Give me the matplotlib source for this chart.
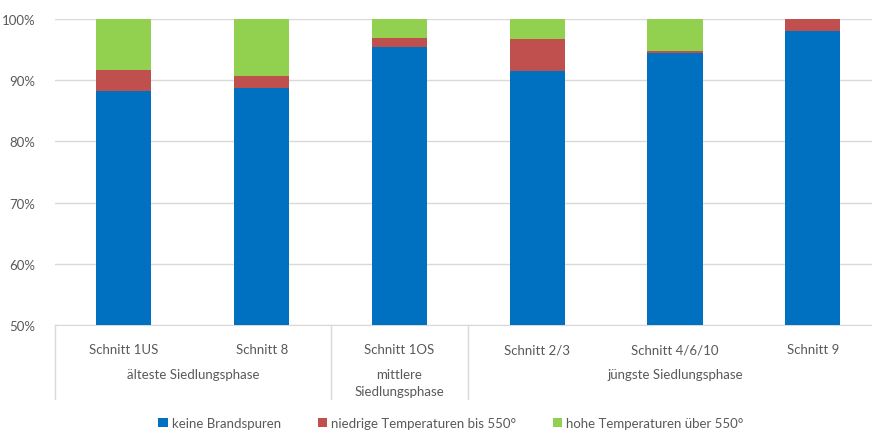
import matplotlib
matplotlib.use("Agg")
import matplotlib.pyplot as plt
import matplotlib.transforms as mtransforms
from matplotlib.ticker import FuncFormatter

plt.rcParams['font.family'] = ['Lato', 'DejaVu Sans']

categories = ["Schnitt 1US", "Schnitt 8", "Schnitt 1OS", "Schnitt 2/3", "Schnitt 4/6/10", "Schnitt 9"]
groups = ["älteste Siedlungsphase", "mittlere\nSiedlungsphase", "jüngste Siedlungsphase"]
group_centers = [0.5, 2, 4]
group_bounds = [-0.5, 1.5, 2.5]
keine = [88.2, 88.7, 95.5, 91.5, 94.4, 98.1]
niedrige = [3.4, 2.0, 1.4, 5.3, 0.3, 1.9]
hohe = [8.4, 9.3, 3.1, 3.2, 5.3, 0.0]
series_names = ["keine Brandspuren", "niedrige Temperaturen bis 550°", "hohe Temperaturen über 550°"]
colors = ["#0070C0", "#C0504D", "#92D050"]
yticks = [50, 60, 70, 80, 90, 100]

text_color = "#595959"
grid_color = "#D9D9D9"
fs = 9.5

fig = plt.figure(figsize=(8.72, 4.31), dpi=100)
ax = fig.add_axes([55/872, 1 - 326/431, 1 - 55/872, (326 - 20)/431])

x = list(range(len(categories)))
bottom = [0.0] * len(categories)
for vals, name, c in zip([keine, niedrige, hohe], series_names, colors):
    ax.bar(x, vals, bottom=bottom, width=0.40, color=c, label=name, zorder=3)
    bottom = [b + v for b, v in zip(bottom, vals)]

ax.set_ylim(50, 100)
ax.set_xlim(-0.5, 5.43)
ax.set_yticks(yticks)
ax.yaxis.set_major_formatter(FuncFormatter(lambda v, p: f"{int(v)}%"))
ax.grid(axis='y', color=grid_color, linewidth=1, zorder=0)
for s in ['top', 'right', 'left']:
    ax.spines[s].set_visible(False)
ax.spines['bottom'].set_color(grid_color)
ax.tick_params(axis='both', length=0, colors=text_color, labelsize=fs)
ax.tick_params(axis='y', pad=14)
ax.set_xticks(x)
ax.set_xticklabels(categories)
ax.tick_params(axis='x', pad=13)

trans = mtransforms.blended_transform_factory(ax.transData, ax.transAxes)
axh = 306.0
for gb in group_bounds:
    ax.plot([gb, gb], [0, -74/axh], transform=trans, color=grid_color, lw=1, clip_on=False)
for gc, g in zip(group_centers, groups):
    ax.text(gc, -43/axh, g, transform=trans, ha='center', va='top', color=text_color,
            fontsize=fs, linespacing=1.55)

handles, labels = ax.get_legend_handles_labels()
leg = fig.legend(handles, labels, loc='center', bbox_to_anchor=(451/872, 1 - 424/431), ncol=3,
                 frameon=False, fontsize=fs, handlelength=0.7, handleheight=0.7,
                 handletextpad=0.3, columnspacing=2.8, labelcolor=text_color)

fig.savefig("out.png", dpi=100)
